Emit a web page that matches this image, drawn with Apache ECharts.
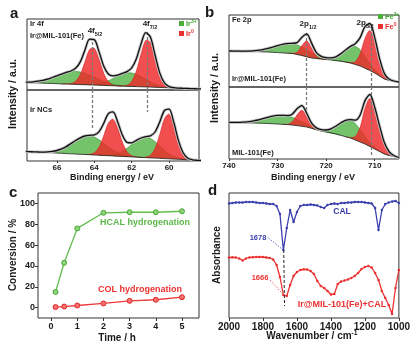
<!DOCTYPE html>
<html>
<head>
<meta charset="utf-8">
<script src="https://cdn.jsdelivr.net/npm/echarts@6/dist/echarts.min.js"></script>
<style>
  html, body { margin: 0; padding: 0; background: #fff; }
  #chart { width: 413px; height: 347px; }
</style>
</head>
<body>
<div id="chart"></div>
<script>
// ---- a: Ir 4f XPS, heights above the fitted background ----
const irEnergy = [67.75,67.5,67.25,67,66.75,66.5,66.25,66,65.75,65.5,65.25,65,
  64.75,64.5,64.25,64,63.75,63.5,63.25,63,62.75,62.5,62.25,62,
  61.75,61.5,61.25,61,60.75,60.5,60.25,60,59.75,59.5,59.25,59,
  58.75,58.5,58.25];
const irTicks = [60, 62, 64, 66];
const irPeakLines = [64.13, 61.18];

// Ir@MIL-101(Fe)
const irMilBase = [7.5,7.3,7.2,7.0,6.8,6.6,6.5,6.3,6.1,6.0,5.8,5.6,
  5.4,5.3,5.1,4.9,4.8,4.6,4.4,4.2,4.1,3.9,3.7,3.6,
  3.4,3.2,3.1,2.9,2.7,2.5,2.4,2.2,2.0,1.9,1.7,1.5,
  1.3,1.2,1.0];
const irMilG1 = [0.3,0.6,1.0,1.8,2.8,4.2,6.0,7.9,9.8,11.5,12.6,13.0,
  12.6,11.5,9.8,7.9,6.0,4.2,2.8,1.8,1.0,0.6,0.3,0.1,
  0,0,0,0,0,0,0,0,0,0,0,0, 0,0,0];
const irMilG2 = [0,0,0,0,0,0,0,0,0,0,0,0,
  0,0.2,0.4,0.8,1.6,2.9,4.8,7.2,9.7,11.9,13.3,13.4,
  12.3,10.2,7.7,5.3,3.2,1.8,0.9,0.4,0.2,0,0,0, 0,0,0];
const irMilR1 = [0,0,0,0,0,0,0,0,0,0.1,0.6,3.1,
  10.1,23.0,35.5,36.8,26.0,12.4,4.0,0.9,0.1,0,0,0,
  0,0,0,0,0,0,0,0,0,0,0,0, 0,0,0];
const irMilR2 = [0,0,0,0,0,0,0,0,0,0,0,0,
  0,0,0,0,0,0,0,0,0,0.2,1.1,5.0,
  15.6,32.7,46.5,44.7,29.1,12.8,3.8,0.8,0.1,0,0,0, 0,0,0];

// Ir NCs
const irNcBase = [9.6,9.4,9.1,8.9,8.6,8.4,8.2,7.9,7.7,7.4,7.2,7.0,
  6.7,6.5,6.3,6.0,5.8,5.5,5.3,5.1,4.8,4.6,4.3,4.1,
  3.9,3.6,3.4,3.1,2.9,2.7,2.4,2.2,1.9,1.7,1.5,1.2,
  1.0,0.7,0.5];
const irNcG1 = [0,0,0,0.1,0.3,0.7,1.4,2.6,4.4,7.0,10.2,13.5,
  16.5,18.5,19.0,17.9,15.4,12.2,8.9,5.9,3.6,2.0,1.0,0.5,
  0.2,0,0,0,0,0,0,0,0,0,0,0, 0,0,0];
const irNcG2 = [0,0,0,0,0,0,0,0,0,0,0,0,
  0,0,0,0,0,0.2,0.6,1.4,2.8,5.1,8.4,12.4,
  16.4,19.4,20.5,19.4,16.4,12.4,8.4,5.1,2.8,1.4,0.6,0.2, 0,0,0];
const irNcR1 = [0,0,0,0,0,0,0,0,0,0,0,0,
  0,0,0.4,2.2,8.0,19.6,32.6,36.7,27.9,14.4,5.0,1.2,
  0.2,0,0,0,0,0,0,0,0,0,0,0, 0,0,0];
const irNcR2 = [0,0,0,0,0,0,0,0,0,0,0,0,
  0,0,0,0,0,0,0,0,0,0,0,0,
  0,0,0.5,2.7,9.7,23.9,39.7,44.6,34.0,17.5,6.1,1.4, 0.2,0,0];

// ---- b: Fe 2p XPS ----
const feEnergy = [740,739,738,737,736,735,734,733,732,731,730,729,
  728,727,726,725,724,723,722,721,720,719,718,717,
  716,715,714,713,712,711,710,709,708,707,706,705];
const feTicks = [710, 720, 730, 740];
const fePeakLines = [724.1, 710.8];

// Ir@MIL-101(Fe)
const feMilBase = [36.0,35.9,35.8,35.6,35.5,35.4,35.3,35.1,35.0,34.7,34.4,34.1,
  33.8,33.5,32.5,31.5,30.2,29.0,28.5,28.0,27.5,27.0,26.4,25.8,
  25.0,24.0,22.5,21.0,18.8,16.5,14.0,11.0,8.0,6.5,5.7,5.0];
const feMilG1 = [0,0,0.1,0.2,0.4,0.7,1.4,2.3,3.6,5.2,6.9,8.5,
  9.6,10,9.6,8.5,6.9,5.2,3.6,2.3,1.4,0.7,0.4,0.2,
  0.1,0,0,0,0,0,0,0,0,0,0,0];
const feMilR1 = [0,0,0,0,0,0,0,0,0,0,0,0,
  0,0.2,2.2,9.7,16,9.7,2.2,0.2,0,0,0,0,
  0,0,0,0,0,0,0,0,0,0,0,0];
const feMilG2 = [0,0,0,0,0,0,0,0,0,0,0,0,
  0,0,0,0,0,0,0,0.1,0.4,1.4,3.4,7.1,
  11.9,16.2,18,16.2,11.9,7.1,3.4,1.4,0.4,0.1,0,0];
const feMilR2 = [0,0,0,0,0,0,0,0,0,0,0,0,
  0,0,0,0,0,0,0,0,0,0,0,0,
  0,0.4,2.8,12.2,29.8,40,32,16,5,1.2,0.3,0];

// MIL-101(Fe)
const feBulkBase = [36.5,36.4,36.3,36.2,36.1,36.0,35.8,35.7,35.5,35.2,35.0,34.7,
  34.4,34.0,33.4,32.7,32.0,30.7,29.3,28.0,27.0,26.0,25.0,23.7,
  22.3,21.0,19.0,17.0,15.0,12.5,10.0,7.5,5.0,3.5,2.5,1.5];
const feBulkG1 = [0.1,0.2,0.3,0.7,1.2,2.1,3.2,4.7,6.2,7.7,8.6,9,
  8.6,7.7,6.2,4.7,3.2,2.1,1.2,0.7,0.3,0.2,0.1,0,
  0,0,0,0,0,0,0,0,0,0,0,0];
const feBulkR1 = [0,0,0,0,0,0,0,0,0,0,0,0,
  0.4,3.1,10.6,16,10.6,3.1,0.4,0,0,0,0,0,
  0,0,0,0,0,0,0,0,0,0,0,0];
const feBulkG2 = [0,0,0,0,0,0,0,0,0,0,0,0,
  0,0,0,0,0,0,0.2,0.6,1.7,4.0,7.7,12.3,
  16.4,18,16.4,12.3,7.7,4.0,1.7,0.6,0.2,0,0,0];
const feBulkR2 = [0,0,0,0,0,0,0,0,0,0,0,0,
  0,0,0,0,0,0,0,0,0,0,0,0,
  0,0.4,3.4,14.7,35.7,48,40,25,11,3.5,0.8,0];

// ---- c: conversion vs time ----
const timeH = [0.17, 0.5, 1, 2, 3, 4, 5];
const hcalConv = [15, 43, 76, 91, 91.5, 91.5, 92.5];
const colConv = [0.5, 1, 2, 4, 6.5, 7.5, 10];
const timeTicks = [0, 1, 2, 3, 4, 5];
const convTicks = [0, 20, 40, 60, 80, 100];

// ---- d: FTIR ----
const wavenumber = [2000,1980,1960,1940,1920,1900,1880,1860,1840,1820,
  1800,1780,1760,1740,1720,1700,1680,1660,1640,1620,
  1600,1580,1560,1540,1520,1500,1480,1460,1440,1420,
  1400,1380,1360,1340,1320,1300,1280,1260,1240,1220,
  1200,1180,1160,1140,1120,1100,1080,1060,1040,1020,1000];
const calAbs = [114.5,115,115.5,115.5,115.5,116,116,116,115.5,115,
  115,114.5,114,114,112,104,68,90,108,96,
  106,112,113,113,113.5,113,112.5,111,110,113,
  114,114.5,114,115,115,115.5,115.5,116,116,116,
  115.5,115,114.5,110,88,108,114,115.5,116.5,117,115];
const irCalAbs = [60.5,60.7,60.5,59.5,57.5,59.5,60.5,60.8,61,61,
  61,60.5,60,58.5,53,41,23,22,33,42,
  46,48,48.7,48.5,47,44,37,32,30,27,
  23.5,24,34,36.5,37.5,38.5,40,42,45,49,
  51,52,50.5,45,38,27,20,13,4,30,48];
const irGuide = [[1678, 68], [1673, 12]];
const calPointer = [[1768, 80], [1688, 69]];
const irCalPointer = [[1758, 38], [1673, 22]];

const FONT = "'Liberation Sans', Arial, sans-serif";
const GREEN_FILL = 'rgba(62,172,48,0.72)';
const RED_FILL = 'rgba(238,40,40,0.82)';
const INK = '#1a1a1a';

function pairs(xs, ys) { return xs.map((x, i) => [x, ys[i]]); }

const series = [];

// one fitted component: filled between background and background + height
function component(gi, xs, base, vals, fill, stroke, z) {
  const idx = [];
  vals.forEach((v, i) => {
    if (v > 0 || vals[i - 1] > 0 || vals[i + 1] > 0) idx.push(i);
  });
  return {
    type: 'custom', xAxisIndex: gi, yAxisIndex: gi, silent: true, clip: true, z,
    data: [[xs[idx[0]], base[idx[0]]]],
    renderItem: (params, api) => {
      const top = idx.map(i => api.coord([xs[i], base[i] + vals[i]]));
      const bottom = idx.slice().reverse().map(i => api.coord([xs[i], base[i]]));
      return {
        type: 'group',
        children: [
          { type: 'polygon', shape: { points: top.concat(bottom), smooth: 0.3 }, style: { fill } },
          { type: 'polyline', shape: { points: top, smooth: 0.3 }, style: { fill: null, stroke, lineWidth: 0.6 } }
        ]
      };
    }
  };
}

function addXps(gi, xs, base, greens, reds, peakLines) {
  greens.forEach(v => series.push(component(gi, xs, base, v, GREEN_FILL, '#2f8a24', 2)));
  reds.forEach(v => series.push(component(gi, xs, base, v, RED_FILL, '#d02020', 3)));
  const parts = greens.concat(reds);
  const fit = base.map((b, i) => b + parts.reduce((s, p) => s + p[i], 0));
  series.push({
    type: 'line', xAxisIndex: gi, yAxisIndex: gi, silent: true,
    data: pairs(xs, base), symbol: 'none',
    lineStyle: { width: 0.8, color: '#222' }, z: 4
  });
  series.push({
    type: 'line', xAxisIndex: gi, yAxisIndex: gi, silent: true,
    data: pairs(xs, fit), symbol: 'none', smooth: 0.3,
    lineStyle: { width: 3, color: '#c4c4c4' }, z: 4
  });
  series.push({
    type: 'line', xAxisIndex: gi, yAxisIndex: gi, silent: true,
    data: pairs(xs, fit), symbol: 'none', smooth: 0.3,
    lineStyle: { width: 1.3, color: '#111' }, z: 5,
    markLine: {
      silent: true, symbol: 'none', animation: false,
      lineStyle: { color: '#7a7a7a', width: 1.3, type: [3, 2] },
      label: { show: false },
      data: peakLines.map(p => [{ coord: [p.x, p.y1] }, { coord: [p.x, p.y2] }])
    }
  });
}

addXps(0, irEnergy, irMilBase, [irMilG1, irMilG2], [irMilR1, irMilR2],
  [{ x: irPeakLines[0], y1: 48, y2: 0 }, { x: irPeakLines[1], y1: 58, y2: 0 }]);
addXps(1, irEnergy, irNcBase, [irNcG1, irNcG2], [irNcR1, irNcR2],
  [{ x: irPeakLines[0], y1: 71, y2: 33 }, { x: irPeakLines[1], y1: 71, y2: 49 }]);
addXps(2, feEnergy, feMilBase, [feMilG1, feMilG2], [feMilR1, feMilR2],
  [{ x: fePeakLines[0], y1: 54, y2: 0 }, { x: fePeakLines[1], y1: 59, y2: 0 }]);
addXps(3, feEnergy, feBulkBase, [feBulkG1, feBulkG2], [feBulkR1, feBulkR2],
  [{ x: fePeakLines[0], y1: 72, y2: 49 }, { x: fePeakLines[1], y1: 72, y2: 2 }]);

// c
series.push({
  type: 'line', xAxisIndex: 4, yAxisIndex: 4, data: pairs(timeH, hcalConv),
  symbol: 'circle', symbolSize: 5,
  lineStyle: { color: '#62bd4c', width: 1.3 },
  itemStyle: { color: '#8bd477', borderColor: '#4ea63a', borderWidth: 1 }
});
series.push({
  type: 'line', xAxisIndex: 4, yAxisIndex: 4, data: pairs(timeH, colConv),
  symbol: 'circle', symbolSize: 5,
  lineStyle: { color: '#ef3b3b', width: 1.3 },
  itemStyle: { color: '#f77070', borderColor: '#e02828', borderWidth: 1 }
});

// d
series.push({
  type: 'line', xAxisIndex: 5, yAxisIndex: 5, data: pairs(wavenumber, calAbs),
  symbol: 'circle', symbolSize: 2.5, showAllSymbol: true,
  lineStyle: { color: '#3b3fae', width: 1.3 }, itemStyle: { color: '#3b3fae' },
  markLine: {
    silent: true, symbol: 'none', animation: false, label: { show: false },
    data: [
      [{ coord: irGuide[0], lineStyle: { color: '#222', width: 1, type: [3, 2] } }, { coord: irGuide[1] }],
      [{ coord: calPointer[0], lineStyle: { color: '#3b3fae', width: 0.8, type: [1.5, 1.5] } }, { coord: calPointer[1] }]
    ]
  }
});
series.push({
  type: 'line', xAxisIndex: 5, yAxisIndex: 5, data: pairs(wavenumber, irCalAbs),
  symbol: 'circle', symbolSize: 2.5, showAllSymbol: true,
  lineStyle: { color: '#ec3030', width: 1.3 }, itemStyle: { color: '#ec3030' },
  markLine: {
    silent: true, symbol: 'none', animation: false, label: { show: false },
    data: [
      [{ coord: irCalPointer[0], lineStyle: { color: '#ec3030', width: 0.8, type: [1.5, 1.5] } }, { coord: irCalPointer[1] }]
    ]
  }
});

const frame = { show: true, borderColor: '#333', borderWidth: 1, backgroundColor: 'transparent' };
const grids = [
  Object.assign({ left: 27, top: 19, width: 172, height: 71 }, frame),
  Object.assign({ left: 27, top: 90, width: 172, height: 71 }, frame),
  Object.assign({ left: 229, top: 15, width: 170, height: 72 }, frame),
  Object.assign({ left: 229, top: 87, width: 170, height: 72 }, frame),
  Object.assign({ left: 38, top: 193, width: 161, height: 125 }, frame),
  Object.assign({ left: 229, top: 193, width: 170, height: 125 }, frame)
];

const tickFont = (size) => ({ fontFamily: FONT, fontWeight: 'bold', fontSize: size, color: INK });
const noLine = { show: false, onZero: false };
const hiddenX = (gi, min, max) => ({
  gridIndex: gi, type: 'value', min, max, inverse: true,
  axisLine: noLine, axisTick: { show: false }, axisLabel: { show: false }, splitLine: { show: false }
});
const xAxes = [
  hiddenX(0, 58.4, 67.6),
  Object.assign(hiddenX(1, 58.4, 67.6), {
    axisTick: { show: true, customValues: irTicks, length: 2, lineStyle: { color: '#333' } },
    axisLabel: Object.assign({ show: true, customValues: irTicks, margin: 3 }, tickFont(8))
  }),
  hiddenX(2, 705, 740),
  Object.assign(hiddenX(3, 705, 740), {
    axisTick: { show: true, customValues: feTicks, length: 2, lineStyle: { color: '#333' } },
    axisLabel: Object.assign({ show: true, customValues: feTicks, margin: 3 }, tickFont(8))
  }),
  {
    gridIndex: 4, type: 'value', min: -0.5, max: 5.65,
    axisLine: noLine, splitLine: { show: false },
    axisTick: { show: true, customValues: timeTicks, length: 3, lineStyle: { color: '#333' } },
    axisLabel: Object.assign({ customValues: timeTicks, margin: 4 }, tickFont(9))
  },
  {
    gridIndex: 5, type: 'value', min: 1000, max: 2000, interval: 200, inverse: true,
    axisLine: noLine, splitLine: { show: false },
    axisTick: { show: true, length: 3, lineStyle: { color: '#333' } },
    axisLabel: Object.assign({ margin: 4, formatter: v => String(v) }, tickFont(10))
  }
];
const hiddenY = (gi, min, max) => ({
  gridIndex: gi, type: 'value', min, max,
  axisLine: noLine, axisTick: { show: false }, axisLabel: { show: false }, splitLine: { show: false }
});
const yAxes = [
  hiddenY(0, 0, 71), hiddenY(1, 0, 71), hiddenY(2, 0, 72), hiddenY(3, 0, 72),
  {
    gridIndex: 4, type: 'value', min: -10, max: 110,
    axisLine: noLine, splitLine: { show: false },
    axisTick: { show: true, customValues: convTicks, length: 3, lineStyle: { color: '#333' } },
    axisLabel: Object.assign({ customValues: convTicks, margin: 3 }, tickFont(9))
  },
  hiddenY(5, 0, 125)
];

// free text
function txt(x, y, text, size, color, extra) {
  return Object.assign({
    type: 'text', x, y, silent: true, z: 50,
    style: {
      text, fontFamily: FONT, fontSize: size, fontWeight: 'bold',
      fill: color || INK, align: 'left', verticalAlign: 'middle'
    }
  }, extra || {});
}
function scriptTxt(x, y, main, script, size, color, up, align) {
  const base = { fontFamily: FONT, fontWeight: 'bold', fill: color || INK };
  return {
    type: 'text', x, y, silent: true, z: 50,
    style: {
      text: '{m|' + main + '}{s|' + script + '}',
      align: align || 'left', verticalAlign: 'middle',
      rich: {
        m: Object.assign({ fontSize: size, lineHeight: size + 3 }, base),
        s: Object.assign({ fontSize: size * 0.68, verticalAlign: up ? 'top' : 'bottom' }, base)
      }
    }
  };
}
function box(x, y, color) {
  return { type: 'rect', silent: true, z: 50, shape: { x, y, width: 5, height: 5 }, style: { fill: color } };
}
const rot = { rotation: Math.PI / 2 };
function centered(el) { el.style.align = 'center'; return el; }

const graphics = [
  txt(10, 14, 'a', 15), txt(205, 13, 'b', 15), txt(9, 193, 'c', 15), txt(208, 191, 'd', 15),
  // a
  txt(30, 24, 'Ir 4f', 7.5), txt(30, 36, 'Ir@MIL-101(Fe)', 7.5), txt(30, 110, 'Ir NCs', 7.5),
  scriptTxt(95, 31, '4f', '5/2', 8, INK, false, 'center'),
  scriptTxt(150, 24, '4f', '7/2', 8, INK, false, 'center'),
  box(179, 21, '#4cae3b'), scriptTxt(186, 24, 'Ir', '3+', 7.5, '#43a832', true),
  box(179, 31, '#ec3030'), scriptTxt(186, 34, 'Ir', '0', 7.5, '#ec3030', true),
  centered(txt(112, 178, 'Binding energy / eV', 9)),
  centered(txt(13, 94, 'Intensity / a.u.', 10.5, INK, rot)),
  // b
  txt(232, 20, 'Fe 2p', 7.5), txt(232, 79, 'Ir@MIL-101(Fe)', 7.5), txt(232, 153, 'MIL-101(Fe)', 7.5),
  scriptTxt(308, 24, '2p', '1/2', 8, INK, false, 'center'),
  scriptTxt(365, 23, '2p', '3/2', 8, INK, false, 'center'),
  box(378, 14, '#4cae3b'), scriptTxt(385, 17, 'Fe', '3+', 7.5, '#43a832', true),
  box(378, 24, '#ec3030'), scriptTxt(385, 27, 'Fe', '0', 7.5, '#ec3030', true),
  centered(txt(313, 178, 'Binding energy / eV', 9)),
  centered(txt(215, 88, 'Intensity / a.u.', 10.5, INK, rot)),
  // c
  centered(txt(145, 223, 'HCAL hydrogenation', 9, '#5cb84a')),
  centered(txt(140, 290, 'COL hydrogenation', 9, '#ee3030')),
  centered(txt(117, 338, 'Time / h', 10)),
  centered(txt(13, 255, 'Conversion / %', 10, INK, rot)),
  // d
  centered(txt(342, 212, 'CAL', 8.5, '#3b3fae')),
  centered(txt(258, 238, '1678', 7.5, '#3b3fae')),
  centered(txt(260, 278, '1666', 7.5, '#ec3030')),
  centered(txt(342, 305, 'Ir@MIL-101(Fe)+CAL', 9, '#ec3030')),
  scriptTxt(312, 336, 'Wavenumber / cm', '-1', 10, INK, true, 'center'),
  centered(txt(217, 255, 'Absorbance', 10, INK, rot))
];

const chart = echarts.init(document.getElementById('chart'), null, { renderer: 'canvas' });
chart.setOption({
  animation: false,
  backgroundColor: '#fff',
  grid: grids,
  xAxis: xAxes,
  yAxis: yAxes,
  series: series,
  graphic: graphics
});
</script>
</body>
</html>
